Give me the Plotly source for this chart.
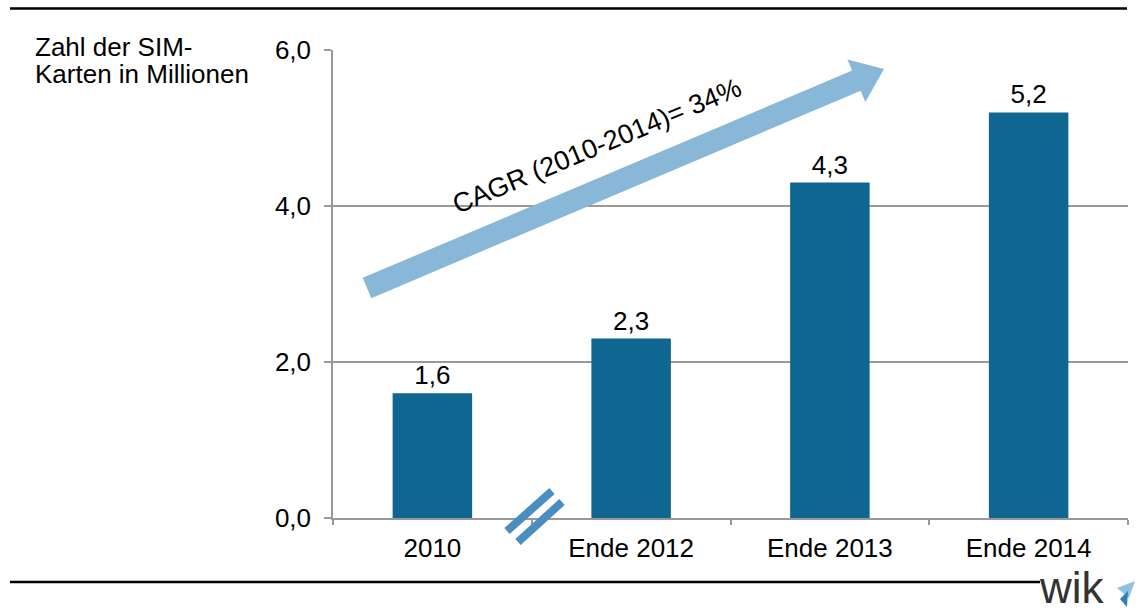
import plotly.graph_objects as go
import math

categories = ["2010", "Ende 2012", "Ende 2013", "Ende 2014"]
values = [1.6, 2.3, 4.3, 5.2]
y_ticks = [0, 2, 4, 6]
y_tick_labels = ["0,0", "2,0", "4,0", "6,0"]
title_lines = ["Zahl der SIM-", "Karten in Millionen"]
cagr_text = "CAGR (2010-2014)= 34%"

W, H = 1139, 612
L, R, T, B = 333, 11, 50, 94
PW, PH = W - L - R, H - T - B

def px(x):
    return (x - L) / PW

def py(y):
    return (H - B - y) / PH

BAR = "#0F6690"
ARROW = "#88B7D8"
GRID = "#999999"
FONT = "Liberation Sans, Arial, sans-serif"
FS = 26

fig = go.Figure()
fig.add_trace(go.Bar(
    x=categories, y=values, width=0.4, marker=dict(color=BAR, line=dict(width=0)),
    text=values, texttemplate="%{y:.1f}", textposition="outside",
    textfont=dict(size=FS, color="#000000", family=FONT), cliponaxis=False,
    hoverinfo="skip",
))

shapes = []
# big arrow polygon
sx, sy = 367.0, 288.0
tx, ty = 884.0, 69.0
dx, dy = tx - sx, ty - sy
ln = math.hypot(dx, dy)
ux, uy = dx / ln, dy / ln
nx, ny = -uy, ux
sw, hw, hl = 11.0, 23.0, 30.0
bx, by = tx - hl * ux, ty - hl * uy
pts = [
    (sx + sw * nx, sy + sw * ny),
    (bx + sw * nx, by + sw * ny),
    (bx + hw * nx, by + hw * ny),
    (tx, ty),
    (bx - hw * nx, by - hw * ny),
    (bx - sw * nx, by - sw * ny),
    (sx - sw * nx, sy - sw * ny),
]
path = "M " + " L ".join(f"{px(a):.5f},{py(b):.5f}" for a, b in pts) + " Z"
shapes.append(dict(type="path", xref="paper", yref="paper", path=path,
                   fillcolor=ARROW, line=dict(width=0), layer="above"))

# axis break marks
for (x0, y0, x1, y1) in [(507, 531, 552, 491), (518, 542, 562, 502)]:
    shapes.append(dict(type="line", xref="paper", yref="paper",
                       x0=px(x0), y0=py(y0), x1=px(x1), y1=py(y1),
                       line=dict(color="#4A8DC0", width=8), layer="above"))

# top and bottom rules
shapes.append(dict(type="line", xref="paper", yref="paper",
                   x0=px(10), y0=py(8.5), x1=px(1127), y1=py(8.5),
                   line=dict(color="#000000", width=2.5)))
shapes.append(dict(type="line", xref="paper", yref="paper",
                   x0=px(10), y0=py(582), x1=px(1040), y1=py(582),
                   line=dict(color="#000000", width=2.5)))

# small logo icon
icon1 = [(1117, 588), (1135, 581), (1129, 598)]
icon2 = [(1120, 599), (1128, 591), (1127, 607)]
for pts_i, col in [(icon1, "#8FC1E3"), (icon2, "#2E7DB5")]:
    p = "M " + " L ".join(f"{px(a):.5f},{py(b):.5f}" for a, b in pts_i) + " Z"
    shapes.append(dict(type="path", xref="paper", yref="paper", path=p,
                       fillcolor=col, line=dict(width=0)))

annotations = [
    dict(text=title_lines[0], xref="paper", yref="paper", x=px(33), y=py(47),
         xanchor="left", yanchor="middle", align="left", showarrow=False,
         font=dict(size=FS, color="#000000", family=FONT)),
    dict(text=title_lines[1], xref="paper", yref="paper", x=px(33), y=py(74),
         xanchor="left", yanchor="middle", align="left", showarrow=False,
         font=dict(size=FS, color="#000000", family=FONT)),
    dict(text=cagr_text, xref="paper", yref="paper", x=px(597), y=py(146),
         xanchor="center", yanchor="middle", textangle=-22.7, showarrow=False,
         font=dict(size=27, color="#000000", family=FONT)),
    dict(text="wik", xref="paper", yref="paper", x=px(1037), y=py(614),
         xanchor="left", yanchor="bottom", showarrow=False,
         font=dict(size=44, color="#333333", family=FONT)),
]

fig.update_layout(
    width=W, height=H,
    margin=dict(l=L, r=R, t=T, b=B, pad=0),
    paper_bgcolor="white", plot_bgcolor="white",
    separators=",.",
    showlegend=False,
    bargap=0.6,
    font=dict(family=FONT, size=FS, color="#000000"),
    xaxis=dict(
        type="category", showline=True, linecolor=GRID, linewidth=1.5,
        ticks="outside", tickson="boundaries", ticklen=5, tickcolor=GRID, tickwidth=1.5,
        showgrid=False, tickfont=dict(size=FS, color="#000000", family=FONT),
        ticklabelstandoff=6, fixedrange=True,
    ),
    yaxis=dict(
        range=[0, 6], tickvals=y_ticks, ticktext=y_tick_labels,
        showline=True, linecolor=GRID, linewidth=1.5,
        ticks="outside", ticklen=7, tickcolor=GRID, tickwidth=1.5,
        showgrid=True, gridcolor=GRID, gridwidth=1.5, zeroline=False,
        tickfont=dict(size=FS, color="#000000", family=FONT),
        ticklabelstandoff=8, fixedrange=True,
    ),
    shapes=shapes,
    annotations=annotations,
)

fig.write_html("out.html", config={"displayModeBar": False},
               post_script="document.body.style.margin='0';document.body.style.overflow='hidden';")
